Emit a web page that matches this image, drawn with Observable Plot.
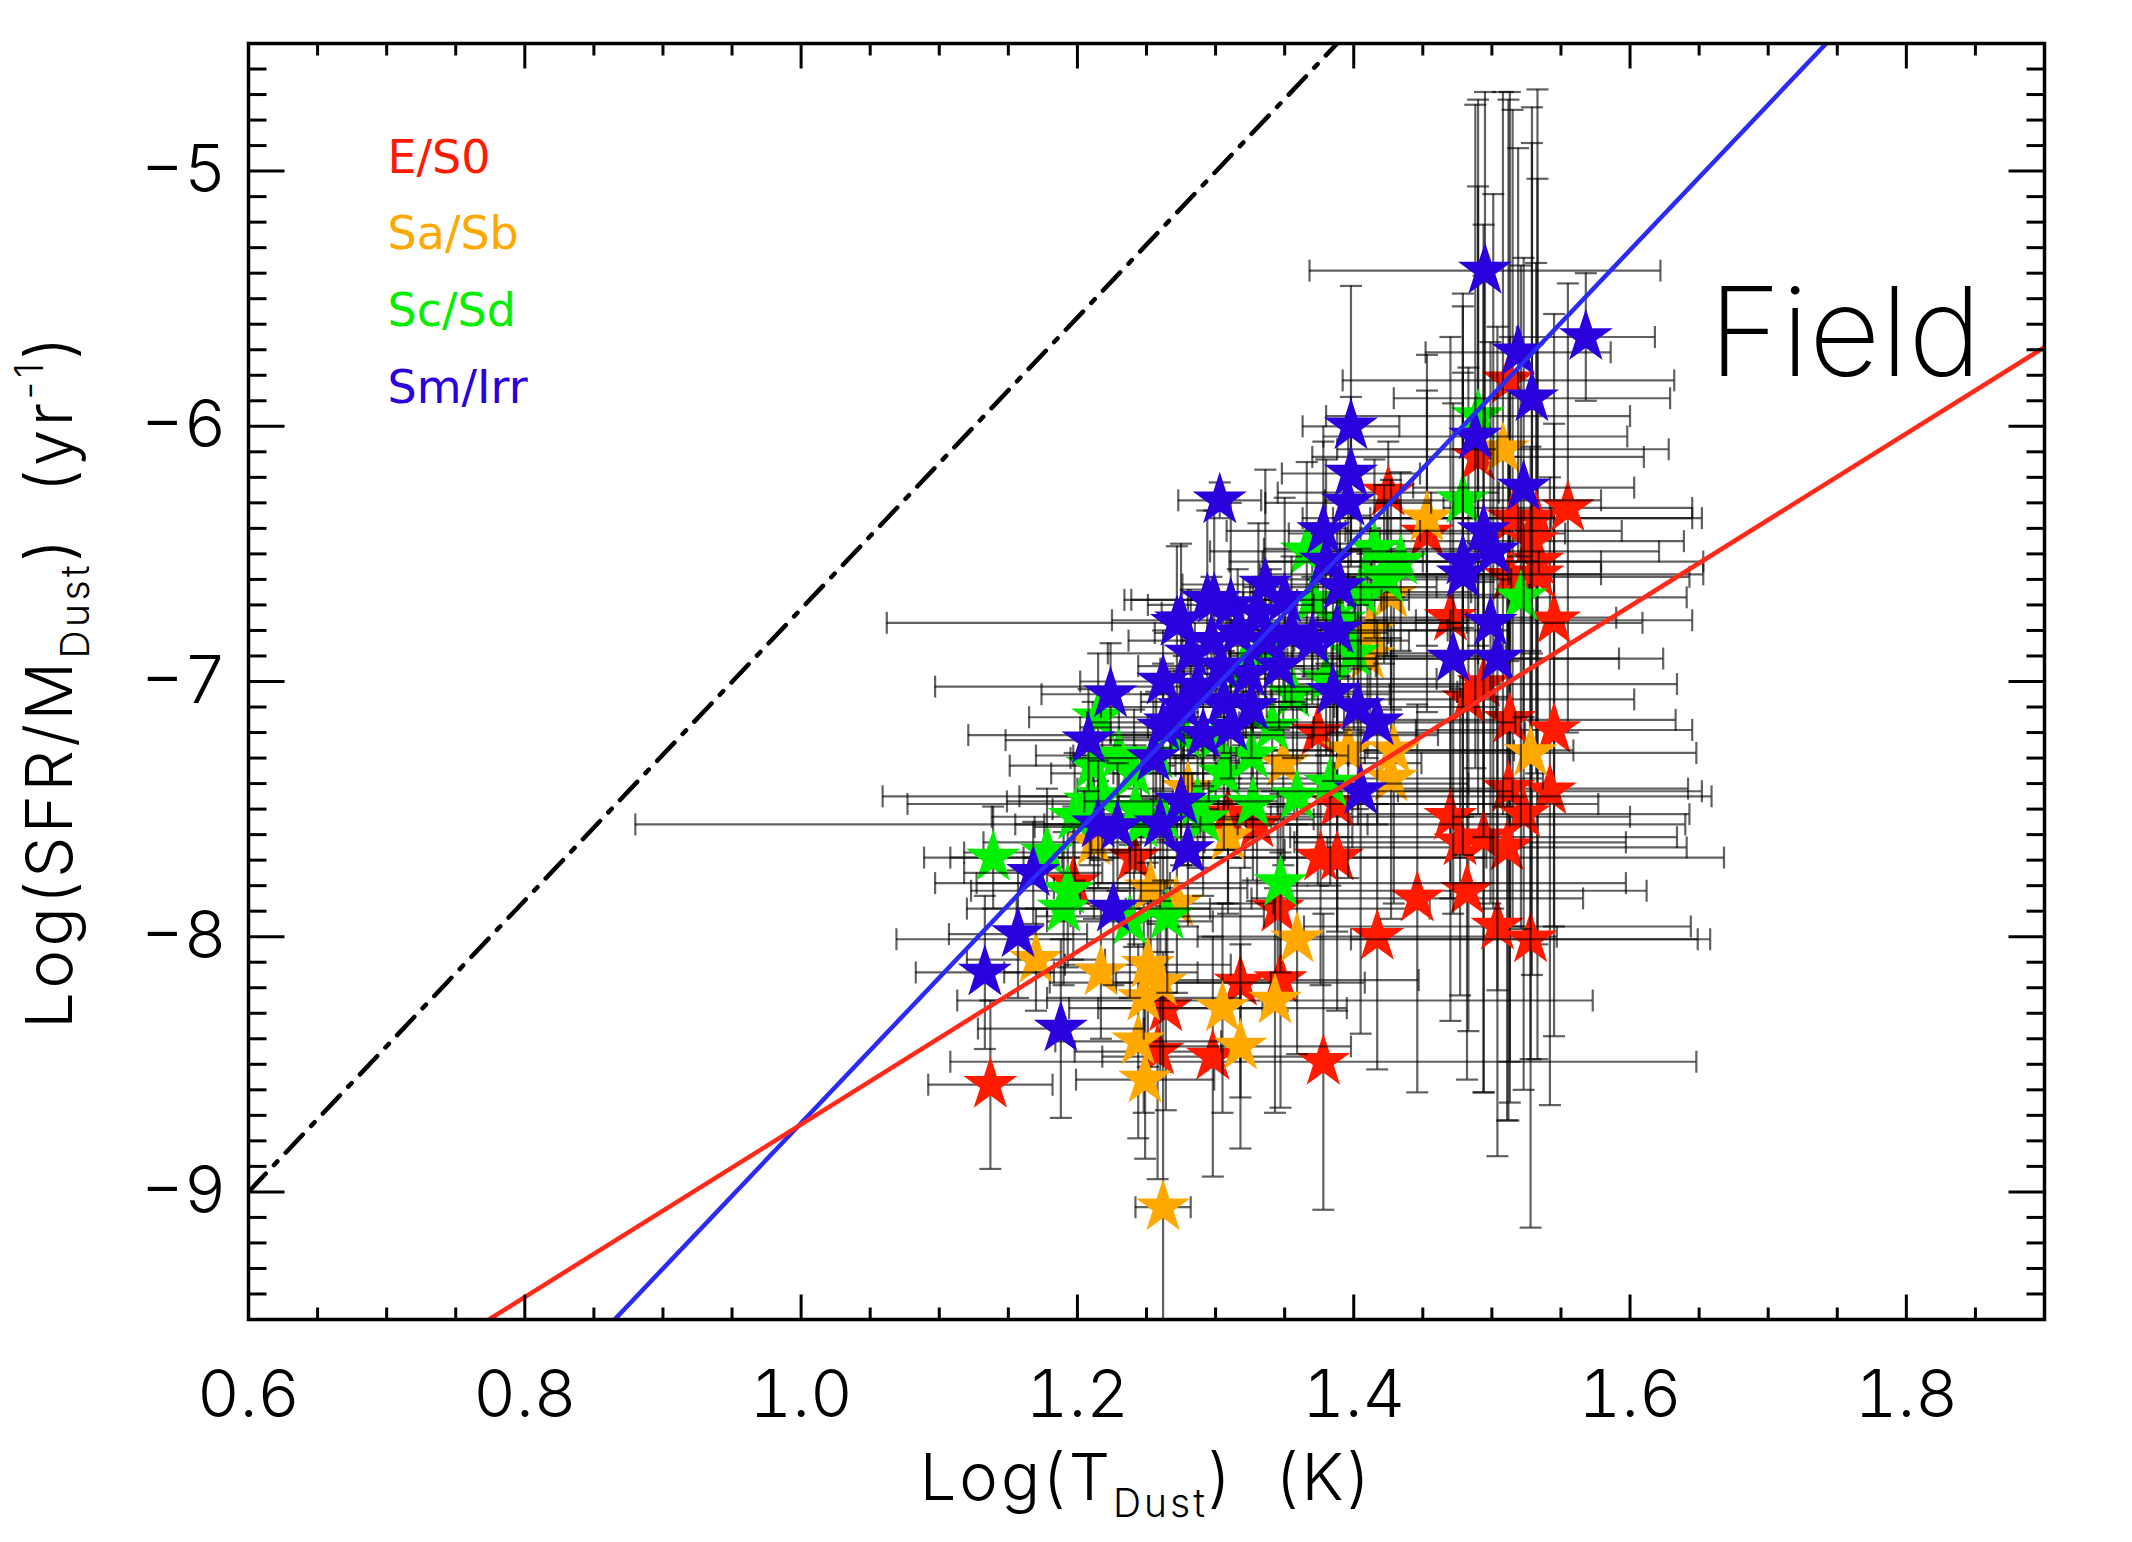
<!DOCTYPE html>
<html>
<head>
<meta charset="utf-8">
<script src="https://cdn.jsdelivr.net/npm/d3@7"></script>
<script src="https://cdn.jsdelivr.net/npm/@observablehq/plot@0.6"></script>
<style>
  html, body { margin: 0; padding: 0; background: #fff; overflow: hidden; }
  #chart svg { display: block; }
</style>
</head>
<body>
<div id="chart"></div>
<script>
// ---- data: [log T_dust, log(SFR/M_dust), err log T, err log(SFR/M)] ----
const E_S0 = [
  [1.137, -8.58, 0.045, 0.33], [1.425, -6.26, 0.08, 0.20], [1.512, -5.82, 0.12, 1.10],
  [1.490, -6.12, 0.12, 1.40], [1.555, -6.32, 0.09, 0.88], [1.453, -6.42, 0.10, 0.70],
  [1.515, -6.36, 0.13, 1.60], [1.532, -6.36, 0.12, 1.00], [1.529, -6.45, 0.11, 1.70],
  [1.533, -6.53, 0.12, 1.50], [1.470, -6.75, 0.12, 1.10], [1.545, -6.76, 0.10, 1.20],
  [1.513, -6.59, 0.13, 1.90], [1.533, -6.58, 0.12, 1.90], [1.494, -7.01, 0.14, 1.60],
  [1.513, -7.15, 0.12, 1.50], [1.545, -7.19, 0.10, 1.20], [1.374, -7.20, 0.15, 0.60],
  [1.512, -7.42, 0.13, 1.30], [1.542, -7.43, 0.11, 1.23], [1.523, -7.52, 0.12, 1.08],
  [1.470, -7.53, 0.13, 0.80], [1.477, -7.63, 0.12, 0.60], [1.494, -7.61, 0.14, 1.00],
  [1.511, -7.65, 0.13, 1.07], [1.376, -7.69, 0.12, 0.50], [1.388, -7.69, 0.28, 0.60],
  [1.446, -7.85, 0.12, 0.76], [1.482, -7.82, 0.13, 0.74], [1.388, -7.48, 0.12, 0.50],
  [1.417, -8.00, 0.13, 0.52], [1.504, -7.96, 0.14, 0.90], [1.528, -8.01, 0.13, 1.13],
  [1.378, -8.49, 0.27, 0.58], [1.264, -8.28, 0.07, 0.40], [1.258, -8.45, 0.06, 0.50],
  [1.298, -8.47, 0.08, 0.47], [1.318, -8.18, 0.09, 0.45], [1.347, -8.17, 0.10, 0.50],
  [1.345, -7.89, 0.11, 0.40], [1.241, -7.69, 0.08, 0.35], [1.197, -7.79, 0.07, 0.30],
  [1.309, -7.52, 0.09, 0.35], [1.330, -7.56, 0.08, 0.30], [1.483, -7.07, 0.12, 1.30]
];
const Sa_Sb = [
  [1.508, -6.09, 0.12, 1.40], [1.453, -6.36, 0.09, 0.50], [1.528, -7.28, 0.12, 1.20],
  [1.396, -7.27, 0.12, 0.50], [1.429, -7.27, 0.13, 0.60], [1.427, -7.38, 0.11, 0.55],
  [1.412, -6.80, 0.10, 0.40], [1.427, -6.66, 0.10, 0.45], [1.170, -8.09, 0.05, 0.20],
  [1.217, -8.14, 0.07, 0.26], [1.251, -8.11, 0.06, 0.40], [1.248, -8.24, 0.07, 0.45],
  [1.260, -8.18, 0.08, 0.35], [1.244, -8.41, 0.06, 0.38], [1.249, -8.56, 0.05, 0.31],
  [1.305, -8.28, 0.09, 0.41], [1.318, -8.43, 0.08, 0.40], [1.343, -8.25, 0.23, 0.44],
  [1.262, -9.06, 0.02, 1.00], [1.272, -7.87, 0.07, 0.35], [1.212, -7.63, 0.08, 0.30],
  [1.309, -7.61, 0.09, 0.30], [1.253, -7.81, 0.07, 0.35], [1.349, -7.32, 0.10, 0.40],
  [1.359, -8.01, 0.29, 0.45], [1.410, -6.90, 0.10, 0.40], [1.280, -7.42, 0.08, 0.30]
];
const Sc_Sd = [
  [1.479, -6.29, 0.10, 0.50], [1.490, -5.96, 0.11, 0.90], [1.521, -6.67, 0.12, 1.30],
  [1.383, -7.40, 0.10, 0.40], [1.359, -7.45, 0.30, 0.35], [1.422, -6.58, 0.09, 0.35],
  [1.139, -7.69, 0.05, 0.20], [1.209, -7.47, 0.06, 0.25], [1.215, -7.14, 0.05, 0.25],
  [1.241, -7.36, 0.06, 0.25], [1.246, -7.56, 0.07, 0.30], [1.291, -7.54, 0.08, 0.30],
  [1.306, -7.36, 0.08, 0.30], [1.347, -7.79, 0.25, 0.35], [1.178, -7.67, 0.06, 0.25],
  [1.193, -7.82, 0.07, 0.30], [1.327, -7.48, 0.25, 0.30], [1.265, -7.92, 0.07, 0.30],
  [1.190, -7.89, 0.07, 0.30], [1.238, -7.94, 0.06, 0.30], [1.424, -6.60, 0.09, 0.30],
  [1.415, -6.48, 0.08, 0.35], [1.434, -6.53, 0.10, 0.35], [1.405, -6.65, 0.08, 0.30],
  [1.390, -6.76, 0.08, 0.30], [1.370, -6.68, 0.07, 0.30], [1.400, -6.89, 0.09, 0.30],
  [1.380, -6.99, 0.08, 0.30], [1.356, -7.05, 0.07, 0.25], [1.341, -7.18, 0.07, 0.25],
  [1.326, -7.29, 0.07, 0.25], [1.300, -7.22, 0.07, 0.25], [1.287, -7.48, 0.07, 0.25],
  [1.262, -7.53, 0.06, 0.25], [1.242, -7.50, 0.06, 0.25], [1.218, -7.45, 0.06, 0.25],
  [1.211, -7.33, 0.06, 0.25], [1.230, -7.29, 0.06, 0.25], [1.257, -7.29, 0.06, 0.25],
  [1.277, -7.21, 0.07, 0.25], [1.366, -6.49, 0.07, 0.35], [1.198, -7.53, 0.06, 0.25],
  [1.320, -6.95, 0.06, 0.30], [1.340, -6.86, 0.06, 0.30]
];
const Sm_Irr = [
  [1.495, -5.39, 0.127, 0.70], [1.568, -5.65, 0.05, 0.25], [1.519, -5.71, 0.067, 0.80],
  [1.529, -5.89, 0.10, 1.00], [1.488, -6.04, 0.11, 1.30], [1.398, -6.00, 0.035, 0.55],
  [1.398, -6.185, 0.05, 0.30], [1.523, -6.24, 0.08, 0.90], [1.396, -6.30, 0.06, 0.30],
  [1.378, -6.41, 0.07, 0.35], [1.494, -6.41, 0.10, 1.20], [1.501, -6.49, 0.12, 1.40],
  [1.479, -6.53, 0.10, 1.00], [1.303, -6.29, 0.03, 0.07], [1.499, -6.77, 0.11, 1.10],
  [1.472, -6.91, 0.12, 1.00], [1.504, -6.91, 0.12, 1.30], [1.479, -6.58, 0.10, 1.10],
  [1.388, -6.80, 0.08, 0.40], [1.385, -7.04, 0.09, 0.35], [1.403, -7.10, 0.10, 0.40],
  [1.417, -7.16, 0.10, 0.40], [1.405, -7.43, 0.11, 0.95], [1.390, -6.63, 0.07, 0.35],
  [1.299, -6.68, 0.06, 0.35], [1.275, -6.76, 0.05, 0.30], [1.224, -7.05, 0.05, 0.20],
  [1.208, -7.23, 0.06, 0.20], [1.262, -7.18, 0.06, 0.25], [1.255, -7.30, 0.06, 0.25],
  [1.275, -7.47, 0.07, 0.25], [1.260, -7.56, 0.38, 0.30], [1.215, -7.56, 0.06, 0.25],
  [1.229, -7.57, 0.06, 0.25], [1.280, -7.66, 0.07, 0.30], [1.168, -7.75, 0.05, 0.20],
  [1.157, -7.99, 0.05, 0.25], [1.133, -8.14, 0.05, 0.30], [1.188, -8.36, 0.06, 0.35],
  [1.226, -7.89, 0.07, 0.30], [1.294, -6.68, 0.06, 0.35], [1.272, -6.77, 0.21, 0.30],
  [1.311, -6.70, 0.06, 0.40], [1.331, -6.73, 0.07, 0.35], [1.350, -6.68, 0.07, 0.40],
  [1.355, -6.81, 0.07, 0.30], [1.336, -6.84, 0.06, 0.25], [1.316, -6.81, 0.06, 0.25],
  [1.297, -6.84, 0.06, 0.25], [1.282, -6.89, 0.06, 0.25], [1.304, -6.94, 0.06, 0.20],
  [1.324, -6.97, 0.06, 0.20], [1.346, -6.94, 0.07, 0.25], [1.287, -7.02, 0.19, 0.20],
  [1.306, -7.08, 0.06, 0.20], [1.326, -7.10, 0.06, 0.20], [1.277, -7.10, 0.06, 0.20],
  [1.262, -7.00, 0.06, 0.20], [1.267, -7.16, 0.06, 0.20], [1.291, -7.21, 0.17, 0.20],
  [1.311, -7.18, 0.06, 0.20], [1.370, -6.84, 0.07, 0.25], [1.336, -6.62, 0.06, 0.45],
  [1.380, -6.53, 0.07, 0.40]
];
const classNames = ["E/S0", "Sa/Sb", "Sc/Sd", "Sm/Irr"];
// reference lines, given by their end points [log T, log(SFR/M)]
const lineDashDot = [[0.600, -9.00], [1.388, -4.50]];
const lineBlue = [[0.865, -9.50], [1.742, -4.50]];
const lineRed = [[0.774, -9.50], [1.900, -5.69]];
const xTickLabels = [0.6, 0.8, 1.0, 1.2, 1.4, 1.6, 1.8];
const yTickLabels = [-9, -8, -7, -6, -5];
const xDomain = [0.6, 1.9];
const yDomain = [-9.5, -4.5];
const panelLabel = "Field";

// ---- styles ----
const classColors = ["#ff1a00", "#ffa800", "#00f000", "#2a00dc"];
const W = 2132, H = 1542, mL = 248, mR = 88, mT = 43, mB = 223;
const thinFont = "Inter, Roboto, 'DejaVu Sans', sans-serif";

const xMinor = d3.range(12, 39).map(i => +(i * 0.05).toFixed(2));
const yMinor = d3.range(-95, -44).map(i => +(i * 0.1).toFixed(1));

const seg = (x0, y0, x1, y1) => ({ draw(ctx) { ctx.moveTo(x0, y0); ctx.lineTo(x1, y1); } });
const capV = seg(0, -11, 0, 11);
const capH = seg(-11, 0, 11, 0);

const tickMarks = (vals, frameAnchor, sym, channel) =>
  Plot.dot(vals, { [channel]: d => d, frameAnchor, symbol: sym, stroke: "#000", strokeWidth: 3, fill: "none" });

const errStyle = { stroke: "#000", strokeOpacity: 0.62, strokeWidth: 2.2, clip: true };

const classMarks = [E_S0, Sa_Sb, Sc_Sd, Sm_Irr].flatMap((arr, i) => {
  const rows = arr.map(([x, y, xe, ye]) => ({ x, y, xe, ye }));
  return [
    Plot.ruleY(rows, { y: "y", x1: d => d.x - d.xe, x2: d => d.x + d.xe, ...errStyle }),
    Plot.ruleX(rows, { x: "x", y1: d => d.y - d.ye, y2: d => d.y + d.ye, ...errStyle }),
    Plot.dot(rows, { x: d => d.x - d.xe, y: "y", symbol: capV, fill: "none", ...errStyle }),
    Plot.dot(rows, { x: d => d.x + d.xe, y: "y", symbol: capV, fill: "none", ...errStyle }),
    Plot.dot(rows, { x: "x", y: d => d.y - d.ye, symbol: capH, fill: "none", ...errStyle }),
    Plot.dot(rows, { x: "x", y: d => d.y + d.ye, symbol: capH, fill: "none", ...errStyle }),
    Plot.dot(rows, { x: "x", y: "y", symbol: "star", r: 17, fill: classColors[i], stroke: "none", clip: true })
  ];
});

const legendMarks = classNames.map((name, i) =>
  Plot.text([name], {
    frameAnchor: "top-left", dx: 139, dy: 129 + i * 76.7, text: d => d,
    fill: classColors[i], fontSize: 46, fontFamily: "DejaVu Sans", textAnchor: "start", lineAnchor: "bottom",
    letterSpacing: 4
  })
);

const svg = Plot.plot({
  width: W, height: H,
  marginLeft: mL, marginRight: mR, marginTop: mT, marginBottom: mB,
  x: { domain: xDomain },
  y: { domain: yDomain },
  style: { fontFamily: thinFont, background: "#fff", color: "#000" },
  marks: [
    ...classMarks,
    Plot.line(lineDashDot, { x: d => d[0], y: d => d[1], stroke: "#000", strokeWidth: 4.5, strokeDasharray: "25,12,5,12", clip: true }),
    Plot.line(lineBlue, { x: d => d[0], y: d => d[1], stroke: "#2b2bf5", strokeWidth: 4.5, clip: true }),
    Plot.line(lineRed, { x: d => d[0], y: d => d[1], stroke: "#ff2a1a", strokeWidth: 4.5, clip: true }),
    // inward ticks on all four sides
    tickMarks(xMinor.filter(v => !xTickLabels.includes(v)), "bottom", seg(0, 0, 0, -12), "x"),
    tickMarks(xTickLabels, "bottom", seg(0, 0, 0, -25), "x"),
    tickMarks(xMinor.filter(v => !xTickLabels.includes(v)), "top", seg(0, 0, 0, 12), "x"),
    tickMarks(xTickLabels, "top", seg(0, 0, 0, 25), "x"),
    tickMarks(yMinor.filter(v => !yTickLabels.includes(v)), "left", seg(0, 0, 18, 0), "y"),
    tickMarks(yTickLabels, "left", seg(0, 0, 36, 0), "y"),
    tickMarks(yMinor.filter(v => !yTickLabels.includes(v)), "right", seg(0, 0, -18, 0), "y"),
    tickMarks(yTickLabels, "right", seg(0, 0, -36, 0), "y"),
    Plot.frame({ stroke: "#000", strokeWidth: 3.5 }),
    Plot.axisX(xTickLabels, { tickSize: 0, tickPadding: 51, tickFormat: d3.format(".1f"), fontSize: 66, fontWeight: 300, label: null }),
    Plot.axisY(yTickLabels, { tickSize: 0, tickPadding: 22, tickFormat: d3.format("d"), fontSize: 66, fontWeight: 300, label: null }),
    ...legendMarks,
    Plot.text([panelLabel], { frameAnchor: "top-left", dx: 1460, dy: 332, text: d => d, fontSize: 124, fontWeight: 200, textAnchor: "start", lineAnchor: "bottom", fill: "#000", letterSpacing: 10 })
  ]
});

// axis titles with sub/superscripts
const s = d3.select(svg);
const cx = mL + (W - mL - mR) / 2, cy = mT + (H - mT - mB) / 2;
const xt = s.append("text").attr("x", cx).attr("y", 1500).attr("text-anchor", "middle")
  .attr("font-size", 65).attr("font-weight", 300).attr("fill", "#000").style("letter-spacing", "3px").attr("xml:space", "preserve");
xt.append("tspan").text("Log(T");
xt.append("tspan").attr("font-size", 39).attr("dy", 17).text("Dust");
xt.append("tspan").attr("dy", -17).text(")\u00a0\u00a0(K)");

const yt = s.append("text").attr("transform", `translate(72,${cy}) rotate(-90)`).attr("text-anchor", "middle")
  .attr("font-size", 65).attr("font-weight", 300).attr("fill", "#000").style("letter-spacing", "3.5px");
yt.append("tspan").text("Log(SFR/M");
yt.append("tspan").attr("font-size", 39).attr("dy", 17).text("Dust");
yt.append("tspan").attr("dy", -17).text(")\u00a0\u00a0(yr");
yt.append("tspan").attr("font-size", 39).attr("dy", -29).text("-1");
yt.append("tspan").attr("dy", 29).text(")");

document.getElementById("chart").appendChild(svg);
</script>
</body>
</html>
